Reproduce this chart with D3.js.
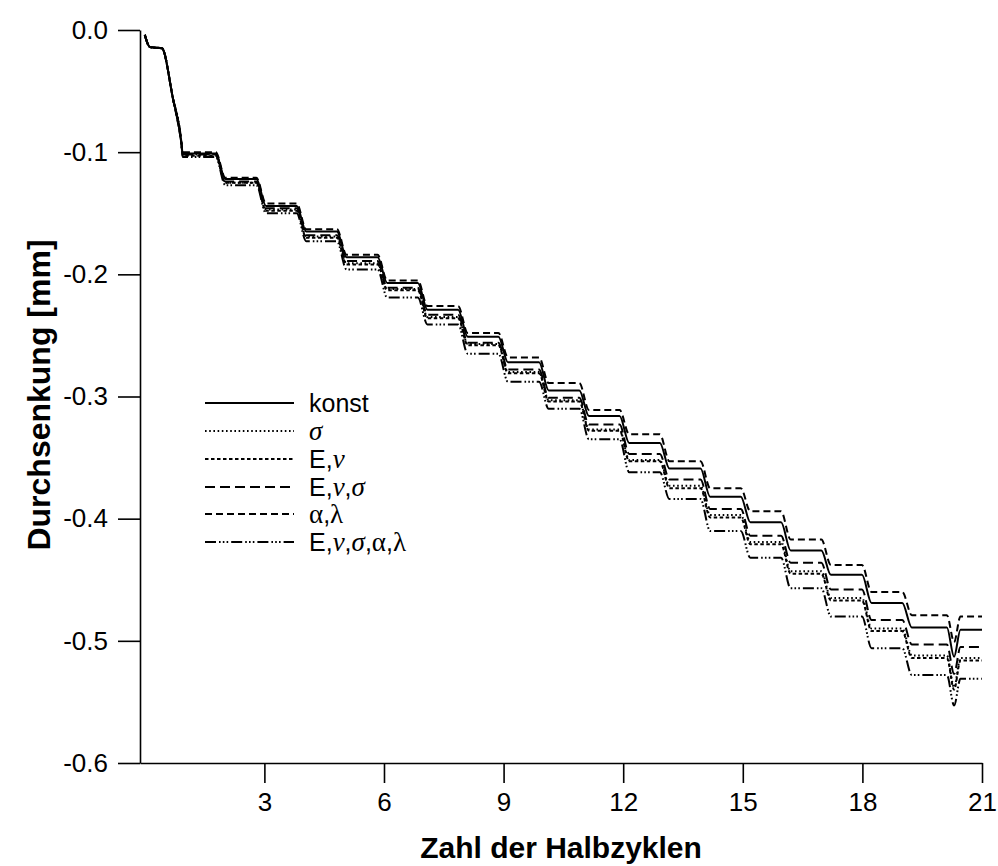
<!DOCTYPE html>
<html>
<head>
<meta charset="utf-8">
<script src="https://cdn.jsdelivr.net/npm/d3@7"></script>
<style>
  body { margin: 0; background: #fff; }
  svg { display: block; }
  .axis path, .axis line { stroke: #000; stroke-width: 1.6px; }
  .axis text { font-family: "Liberation Sans", Arial, sans-serif; font-size: 26px; fill: #000; }
</style>
</head>
<body>
<svg id="chart"></svg>
<script>
// half cycles on the x axis, deflection in mm on the y axis
const xTicks = [3, 6, 9, 12, 15, 18, 21];
const yTicks = [0, -0.1, -0.2, -0.3, -0.4, -0.5, -0.6];

// common start (first loading)
const startX = [0, 0.13, 0.43, 0.7, 0.92];
const startY = [-0.004, -0.014, -0.015, -0.055, -0.093];

// plateau begin / end for each half cycle 1..19
const plateauStart = [0.95, 2.02, 3.04, 4.05, 5.06, 6.08, 7.09, 8.10, 9.11, 10.13, 11.14, 12.15, 13.16, 14.18, 15.19, 16.20, 17.21, 18.23, 19.24];
const plateauEnd   = [1.78, 2.80, 3.81, 4.82, 5.84, 6.85, 7.86, 8.87, 9.89, 10.90, 11.91, 12.92, 13.94, 14.95, 15.96, 16.97, 17.99, 19.00, 20.12];
const dipX = 20.3;
const lastStart = 20.46;
const lastEnd = 21;

const konst       = [-0.101,-0.122,-0.144,-0.165,-0.186,-0.207,-0.229,-0.251,-0.272,-0.295,-0.316,-0.338,-0.359,-0.382,-0.403,-0.426,-0.446,-0.469,-0.489];
const sigma       = [-0.102,-0.125,-0.147,-0.169,-0.191,-0.212,-0.235,-0.257,-0.280,-0.303,-0.327,-0.352,-0.373,-0.397,-0.419,-0.443,-0.465,-0.490,-0.512];
const eNu         = [-0.103,-0.125,-0.148,-0.170,-0.192,-0.213,-0.236,-0.258,-0.281,-0.304,-0.328,-0.353,-0.375,-0.399,-0.421,-0.445,-0.467,-0.492,-0.514];
const eNuSigma    = [-0.102,-0.124,-0.146,-0.168,-0.189,-0.211,-0.233,-0.256,-0.278,-0.301,-0.323,-0.347,-0.368,-0.392,-0.414,-0.436,-0.458,-0.483,-0.503];
const alphaLambda = [-0.100,-0.121,-0.142,-0.163,-0.184,-0.205,-0.226,-0.248,-0.268,-0.289,-0.311,-0.331,-0.353,-0.375,-0.394,-0.417,-0.438,-0.460,-0.479];
const all         = [-0.104,-0.127,-0.150,-0.173,-0.196,-0.219,-0.241,-0.265,-0.288,-0.310,-0.335,-0.362,-0.384,-0.410,-0.432,-0.457,-0.480,-0.506,-0.528];

// order: konst, sigma, E nu, E nu sigma, alpha lambda, all
const dipValues = [-0.513, -0.538, -0.540, -0.527, -0.501, -0.553];
const endValues = [-0.491, -0.514, -0.516, -0.505, -0.480, -0.531];

const seriesNames = ["konst", "sigma", "enu", "enusigma", "alphalambda", "all"];
const seriesData = [konst, sigma, eNu, eNuSigma, alphaLambda, all];
const dashes = ["none", "1.6,2.6", "3.5,2.5", "10,5", "7,4", "11,3,1.6,2.2,1.6,2.2,1.6,3"];

const W = 998, H = 866;
const svg = d3.select("#chart").attr("width", W).attr("height", H);

const x = d3.scaleLinear().domain([-0.12, 21]).range([140, 982]);
const y = d3.scaleLinear().domain([-0.6, 0]).range([763, 30]);

function buildPoints(plat, dip, end) {
  const pts = startX.map((d, i) => [d, startY[i]]);
  plat.forEach((v, i) => {
    pts.push([plateauStart[i], v]);
    pts.push([plateauEnd[i], v]);
  });
  pts.push([dipX, dip]);
  pts.push([lastStart, end]);
  pts.push([lastEnd, end]);
  return pts;
}

const line = d3.line().x(d => x(d[0])).y(d => y(d[1])).curve(d3.curveMonotoneX);

// axes
svg.append("g").attr("class", "axis")
  .attr("transform", "translate(0,763)")
  .call(d3.axisBottom(x).tickValues(xTicks).tickSize(20).tickSizeOuter(0).tickPadding(10).tickFormat(d3.format("d")));

svg.append("g").attr("class", "axis")
  .attr("transform", "translate(140,0)")
  .call(d3.axisLeft(y).tickValues(yTicks).tickSize(22).tickSizeOuter(0).tickPadding(10)
    .tickFormat(d => d3.format(".1f")(d).replace("\u2212", "-")));

// curves
svg.append("g").selectAll("path")
  .data(seriesData)
  .join("path")
  .attr("class", (d, i) => "series " + seriesNames[i])
  .attr("fill", "none")
  .attr("stroke", "#000")
  .attr("stroke-width", 2)
  .attr("stroke-dasharray", (d, i) => dashes[i])
  .attr("d", (d, i) => line(buildPoints(d, dipValues[i], endValues[i])));

// axis titles
svg.append("text")
  .attr("x", 561).attr("y", 858)
  .attr("text-anchor", "middle")
  .style("font-family", "Liberation Sans, Arial, sans-serif")
  .style("font-weight", "bold").style("font-size", "30px")
  .text("Zahl der Halbzyklen");

svg.append("text")
  .attr("transform", "translate(50,395) rotate(-90)")
  .attr("text-anchor", "middle")
  .style("font-family", "Liberation Sans, Arial, sans-serif")
  .style("font-weight", "bold").style("font-size", "32px")
  .text("Durchsenkung [mm]");

// legend
const legendLabels = [
  [["konst", "s"]],
  [["σ", "gi"]],
  [["E,", "s"], ["ν", "gi"]],
  [["E,", "s"], ["ν", "gi"], [",", "s"], ["σ", "gi"]],
  [["α", "g"], [",", "s"], ["λ", "g"]],
  [["E,", "s"], ["ν", "gi"], [",", "s"], ["σ", "gi"], [",", "s"], ["α", "g"], [",", "s"], ["λ", "g"]]
];
const legendY = [403, 431, 459, 487, 514, 542];

const legend = svg.append("g").attr("class", "legend");
legendLabels.forEach((parts, i) => {
  legend.append("line")
    .attr("x1", 205).attr("x2", 294)
    .attr("y1", legendY[i]).attr("y2", legendY[i])
    .attr("stroke", "#000").attr("stroke-width", 2)
    .attr("stroke-dasharray", dashes[i]);
  const t = legend.append("text")
    .attr("x", 309).attr("y", legendY[i] + 9)
    .style("font-size", "25px");
  parts.forEach(p => {
    const ts = t.append("tspan").text(p[0]);
    if (p[1] === "s") ts.style("font-family", "Liberation Sans, Arial, sans-serif");
    else ts.style("font-family", "Liberation Serif, serif").style("font-size", "27px");
    if (p[1] === "gi") ts.style("font-style", "italic");
  });
});
</script>
</body>
</html>
